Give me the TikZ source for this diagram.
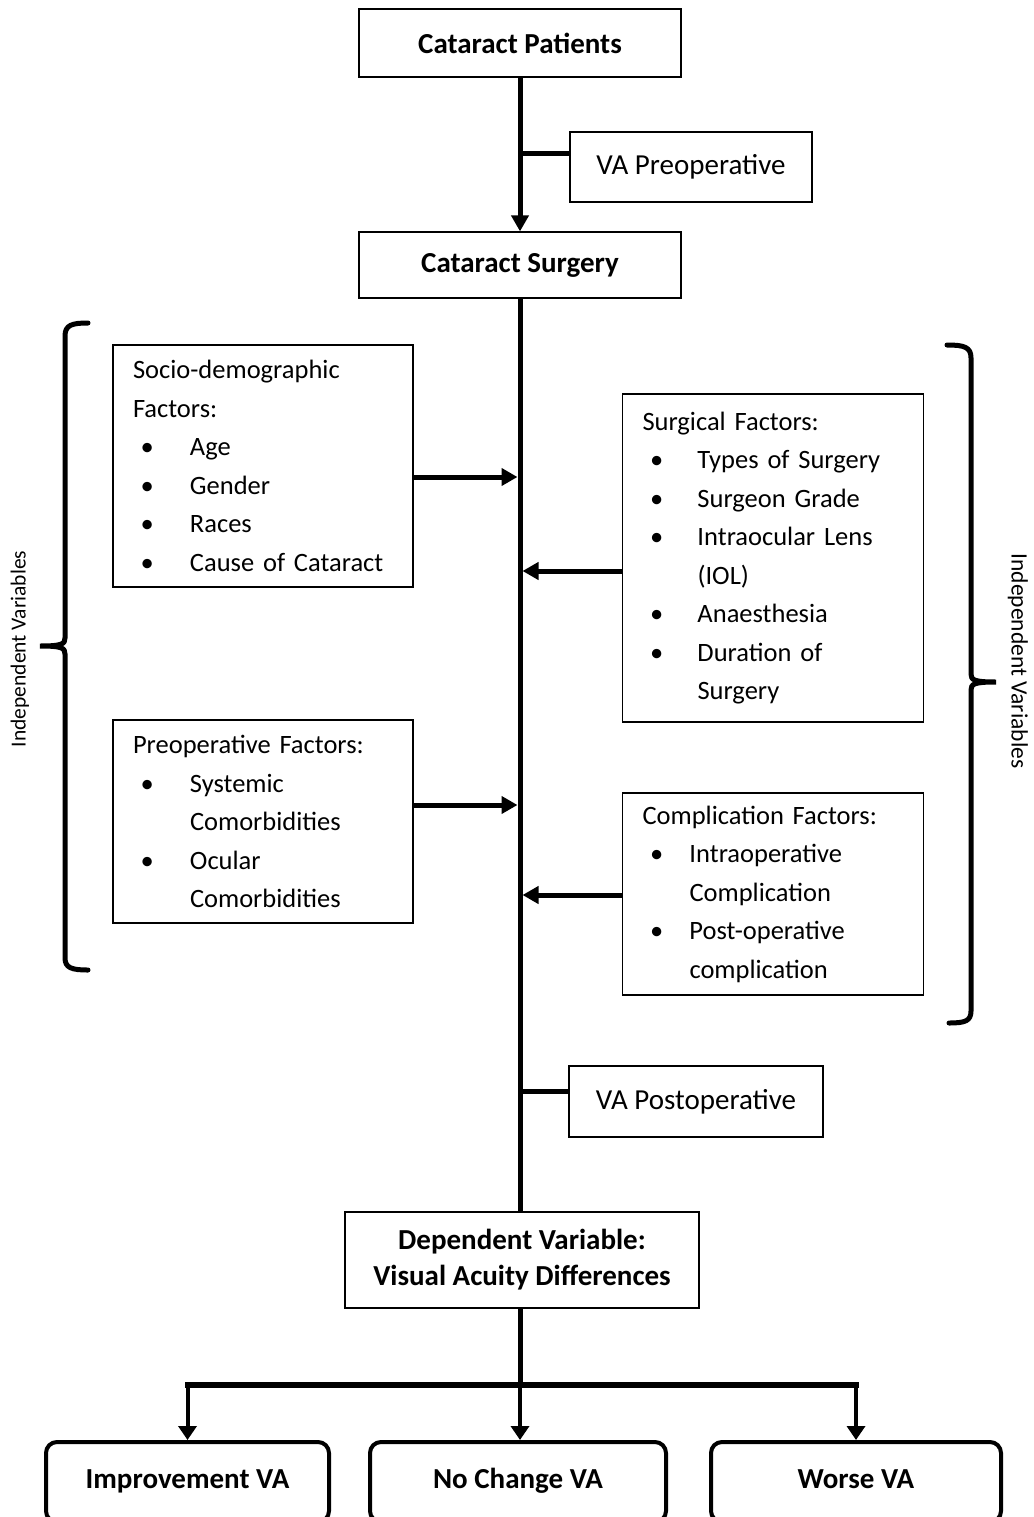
\documentclass[tikz,border=0pt]{standalone}
\usepackage{fontspec}
\setmainfont{Carlito}
\usetikzlibrary{arrows.meta}

\newcommand{\itm}[2][57pt]{\makebox[#1][l]{\hspace{7.5pt}\textbullet}#2}
\newcommand{\cont}[2][57pt]{\hspace*{#1}#2}

\tikzset{
  mainbox/.style={draw, line width=1.2pt, inner sep=0pt, align=center,
    font=\bfseries\fontsize{29}{36}\selectfont},
  vabox/.style={draw, line width=1.2pt, inner sep=0pt,
    font=\fontsize{29}{36}\selectfont},
  factorbox/.style={draw, line width=1.2pt, inner xsep=20pt, inner ysep=0pt,
    align=left, font=\fontsize{26.5}{38.5}\selectfont},
  outbox/.style={draw, line width=4pt, rounded corners=11pt, inner sep=0pt,
    text height=20pt, text depth=7pt, font=\bfseries\fontsize{29}{36}\selectfont},
  flow/.style={line width=5pt},
  arr/.style={flow, -{Triangle[length=16pt,width=17pt]}},
  droparr/.style={line width=4pt, -{Triangle[length=14pt,width=18pt]}},
  brace/.style={line width=5pt, line cap=round},
}

\begin{document}
\begin{tikzpicture}[x=1pt, y=-1pt]

  \useasboundingbox (0,0) rectangle (1033,1517);
  \clip (0,0) rectangle (1033,1517);

  % -- Main flow boxes --
  \node[mainbox, minimum width=322, minimum height=68] (patients) at (520,43) {Cataract Patients};
  \node[vabox, minimum width=242, minimum height=70] (preva) at (691,167) {VA Preoperative};
  \node[mainbox, minimum width=322, minimum height=66] (surgery) at (520,265) {Cataract Surgery};

  % -- Factor boxes --
  \node[factorbox, text width=260, minimum height=242] (socio) at (263,466)
    {Socio-demographic\\ Factors:\\ \itm{Age}\\ \itm{Gender}\\ \itm{Races}\\ \itm{Cause of Cataract}};
  \node[factorbox, text width=261, minimum height=328] (surgical) at (773,558)
    {Surgical Factors:\\ \itm[55pt]{Types of Surgery}\\ \itm[55pt]{Surgeon Grade}\\
     \itm[55pt]{Intraocular Lens}\\ \cont[55pt]{(IOL)}\\ \itm[55pt]{Anaesthesia}\\
     \itm[55pt]{Duration of}\\ \cont[55pt]{Surgery}};
  \node[factorbox, text width=260, minimum height=203] (preop) at (263,821.5)
    {Preoperative Factors:\\ \itm{Systemic}\\ \cont{Comorbidities}\\ \itm{Ocular}\\ \cont{Comorbidities}};
  \node[factorbox, text width=261, minimum height=202] (complic) at (773,894)
    {Complication Factors:\\ \itm[47pt]{Intraoperative}\\ \cont[47pt]{Complication}\\
     \itm[47pt]{Post-operative}\\ \cont[47pt]{complication}};

  % -- Outcome boxes --
  \node[vabox, minimum width=254, minimum height=71] (postva) at (696,1101.5) {VA Postoperative};
  \node[mainbox, minimum width=354, minimum height=96] (depvar) at (522,1260)
    {Dependent Variable:\\ Visual Acuity Differences};
  \node[outbox, minimum width=283, minimum height=80] (improve) at (187.5,1482) {Improvement VA};
  \node[outbox, minimum width=296, minimum height=80] (nochange) at (518,1482) {No Change VA};
  \node[outbox, minimum width=290, minimum height=80] (worse) at (856,1482) {Worse VA};

  % -- Side labels --
  \node[rotate=90, font=\fontsize{21.5}{26}\selectfont] (labelL) at (20,649) {Independent Variables};
  \node[rotate=-90, font=\fontsize{23.5}{28}\selectfont] (labelR) at (1018,661) {Independent Variables};

  % -- Main line --
  \draw[arr] (patients) -- (surgery);
  \draw[flow] ([yshift=13pt]preva.west) -- ([yshift=13pt]preva.west -| patients.south);
  \draw[flow] (surgery.south) -- (surgery.south |- depvar.north);
  \draw[flow] ([yshift=10pt]postva.west) -- ([yshift=10pt]postva.west -| surgery.south);

  % -- Factor arrows --
  \draw[arr, shorten >=2.5pt] ([yshift=-11pt]socio.east) -- ([yshift=-11pt]socio.east -| surgery.south);
  \draw[arr, shorten >=2.5pt] ([yshift=-13pt]surgical.west) -- ([yshift=-13pt]surgical.west -| surgery.south);
  \draw[arr, shorten >=2.5pt] ([yshift=16.5pt]preop.east) -- ([yshift=16.5pt]preop.east -| surgery.south);
  \draw[arr, shorten >=2.5pt] ([yshift=-1pt]complic.west) -- ([yshift=-1pt]complic.west -| surgery.south);

  % -- Split to outcomes --
  \coordinate (bus) at (520,1385);
  \draw[flow] (depvar.south -| bus) -- (bus);
  \draw[line width=6pt, line cap=rect] (improve.north |- bus) -- (worse.north |- bus);
  \draw[droparr] (improve.north |- bus) -- (improve.north);
  \draw[droparr] (bus) -- (bus |- nochange.north);
  \draw[droparr] (worse.north |- bus) -- (worse.north);

  % -- Brackets --
  \draw[brace] (88,323) .. controls (72,323) and (65,325) .. (65,336) -- (65,638)
    .. controls (65,644) and (62,646) .. (40,646) .. controls (62,646) and (65,648) .. (65,654)
    -- (65,958) .. controls (65,968) and (72,970) .. (88,970);
  \draw[brace] (947,345) .. controls (964,345) and (971,347) .. (971,358) -- (971,674)
    .. controls (971,680) and (974,682) .. (996,682) .. controls (974,682) and (971,684) .. (971,690)
    -- (971,1011) .. controls (971,1021) and (965,1023) .. (949,1023);

\end{tikzpicture}
\end{document}
